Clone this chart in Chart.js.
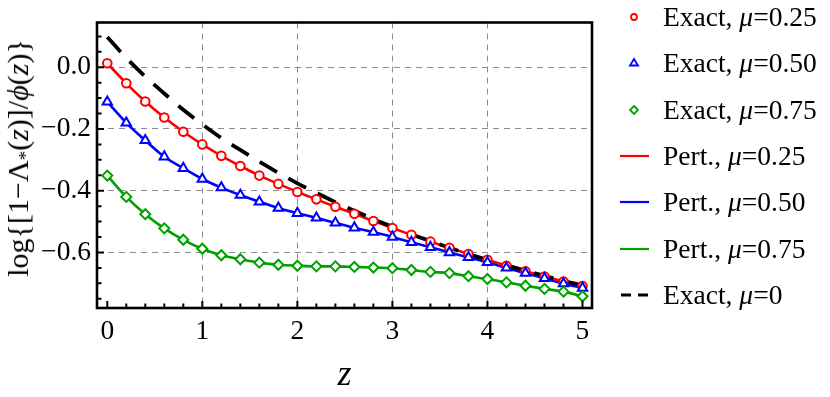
<!DOCTYPE html>
<html>
<head>
<meta charset="utf-8">
<script src="https://cdn.jsdelivr.net/npm/chart.js@4.4.1/dist/chart.umd.min.js"></script>
<style>
  html, body { margin: 0; padding: 0; background: #fff; }
  #wrap { position: relative; width: 830px; height: 397px; overflow: hidden; }
  #c { position: absolute; left: 0; top: 0; }
  #ylab {
    position: absolute; left: 19px; top: 158px;
    transform: translate(-50%, -50%) rotate(-90deg);
    white-space: nowrap; font-family: 'Liberation Serif', 'Times New Roman', serif;
    font-size: 30px; color: #000; line-height: 1;
  }
  #ylab sub { font-size: 19px; vertical-align: -4px; }
  .lg-row { position: absolute; height: 30px; line-height: 30px; white-space: nowrap;
    font-family: 'Liberation Serif', 'Times New Roman', serif; font-size: 27.5px; color: #000; }
  .lg-sym { position: absolute; }
</style>
</head>
<body>
<div id="wrap">
  <canvas id="c" width="830" height="397"></canvas>
  <div id="ylab">log{[1−Λ<sub>*</sub>(<i>z</i>)]/<i>ϕ</i>(<i>z</i>)}</div>
  <div id="legend"></div>
</div>
<script>
// ---- data ----
const zValues = [0, 0.2, 0.4, 0.6, 0.8, 1.0, 1.2, 1.4, 1.6, 1.8, 2.0, 2.2, 2.4, 2.6, 2.8, 3.0, 3.2, 3.4, 3.6, 3.8, 4.0, 4.2, 4.4, 4.6, 4.8, 5.0];

const exact025 = [0.013, -0.052, -0.111, -0.163, -0.209, -0.250, -0.287, -0.320, -0.351, -0.378, -0.404, -0.428, -0.452, -0.475, -0.498, -0.521, -0.543, -0.565, -0.585, -0.605, -0.624, -0.643, -0.661, -0.678, -0.694, -0.709];
const exact050 = [-0.112, -0.180, -0.237, -0.290, -0.327, -0.362, -0.390, -0.414, -0.436, -0.456, -0.473, -0.488, -0.504, -0.520, -0.534, -0.550, -0.567, -0.583, -0.600, -0.616, -0.632, -0.650, -0.667, -0.684, -0.701, -0.715];
const exact075 = [-0.351, -0.420, -0.476, -0.522, -0.559, -0.588, -0.609, -0.622, -0.633, -0.640, -0.643, -0.645, -0.645, -0.647, -0.649, -0.651, -0.657, -0.663, -0.667, -0.677, -0.686, -0.697, -0.708, -0.718, -0.727, -0.742];

// perturbative curves pass through the exact points in the picture
const pert025 = [0.013, -0.052, -0.111, -0.163, -0.209, -0.250, -0.287, -0.320, -0.351, -0.378, -0.404, -0.428, -0.452, -0.475, -0.498, -0.521, -0.543, -0.565, -0.585, -0.605, -0.624, -0.643, -0.661, -0.678, -0.694, -0.709];
const pert050 = [-0.112, -0.180, -0.237, -0.290, -0.327, -0.362, -0.390, -0.414, -0.436, -0.456, -0.473, -0.488, -0.504, -0.520, -0.534, -0.550, -0.567, -0.583, -0.600, -0.616, -0.632, -0.650, -0.667, -0.684, -0.701, -0.715];
const pert075 = [-0.351, -0.420, -0.476, -0.522, -0.559, -0.588, -0.609, -0.622, -0.633, -0.640, -0.643, -0.645, -0.645, -0.647, -0.649, -0.651, -0.657, -0.663, -0.667, -0.677, -0.686, -0.697, -0.708, -0.718, -0.727, -0.742];

const exact0 = [0.098, 0.030, -0.030, -0.085, -0.138, -0.185, -0.229, -0.268, -0.306, -0.342, -0.376, -0.407, -0.437, -0.465, -0.492, -0.517, -0.541, -0.563, -0.585, -0.605, -0.624, -0.642, -0.659, -0.676, -0.692, -0.707];

const xTickValues = [0, 1, 2, 3, 4, 5];
const yTickValues = [0.0, -0.2, -0.4, -0.6];

const seriesLabels = ['Exact, μ=0.25', 'Exact, μ=0.50', 'Exact, μ=0.75',
                      'Pert., μ=0.25', 'Pert., μ=0.50', 'Pert., μ=0.75', 'Exact, μ=0'];

// ---- chart ----
const RED = '#ff0000', BLUE = '#0000ff', GREEN = '#00a000';
const pts = arr => zValues.map((z, i) => ({x: z, y: arr[i]}));
const FONT = "'Liberation Serif', 'Times New Roman', serif";

const markerDs = (label, arr, color, style, r, ord) => ({
  label, data: pts(arr), showLine: false, borderColor: color, backgroundColor: '#fff',
  pointStyle: style, pointRadius: r, pointBorderWidth: 2, pointHoverRadius: r, order: ord
});
const lineDs = (label, arr, color, ord, extra) => Object.assign({
  label, data: pts(arr), showLine: true, borderColor: color, backgroundColor: color,
  borderWidth: 2.6, pointRadius: 0, pointHoverRadius: 0, cubicInterpolationMode: 'monotone', order: ord
}, extra || {});

const datasets = [
  markerDs(seriesLabels[0], exact025, RED, 'circle', 4.3, 3),
  markerDs(seriesLabels[1], exact050, BLUE, 'triangle', 5.4, 2),
  markerDs(seriesLabels[2], exact075, GREEN, 'rectRot', 5.0, 1),
  lineDs(seriesLabels[3], pert025, RED, 5),
  lineDs(seriesLabels[4], pert050, BLUE, 6),
  lineDs(seriesLabels[5], pert075, GREEN, 7),
  lineDs(seriesLabels[6], exact0, '#000', 4, {borderWidth: 3.8, borderDash: [20, 13], borderCapStyle: 'butt'})
];

const frameTicks = {
  id: 'frameTicks',
  afterDatasetsDraw(chart) {
    const {ctx, chartArea: a, scales: {x, y}} = chart;
    ctx.save();
    ctx.strokeStyle = '#000';
    ctx.lineWidth = 2;
    ctx.beginPath();
    for (let k = 0; k <= 25; k++) {
      const v = k * 0.2;
      const px = x.getPixelForValue(v);
      const len = (k % 5 === 0) ? 7 : 4.5;
      ctx.moveTo(px, a.bottom); ctx.lineTo(px, a.bottom - len);
    }
    for (let k = -15; k <= 2; k++) {
      const v = k * 0.05;
      const py = y.getPixelForValue(v);
      const len = (k % 4 === 0) ? 7 : 4.5;
      ctx.moveTo(a.left, py); ctx.lineTo(a.left + len, py);
    }
    ctx.stroke();
    ctx.lineWidth = 2.6;
    ctx.strokeRect(a.left, a.top, a.right - a.left, a.bottom - a.top);
    ctx.restore();
  }
};

const chart = new Chart(document.getElementById('c'), {
  type: 'scatter',
  data: { datasets },
  options: {
    responsive: false,
    animation: false,
    events: [],
    layout: { padding: { left: 0, top: 2, right: 238, bottom: 0 } },
    plugins: { legend: { display: false }, tooltip: { enabled: false } },
    scales: {
      x: {
        type: 'linear', min: -0.108, max: 5.1,
        afterFit: s => { s.height = 89; },
        afterBuildTicks: s => { s.ticks = xTickValues.map(v => ({value: v})); },
        ticks: { font: { family: FONT, size: 27.5 }, color: '#000', padding: 7,
                 callback: v => String(v), maxRotation: 0, autoSkip: false },
        grid: { drawTicks: false, lineWidth: 1,
                color: c => (c.tick && (c.tick.value === 0 || c.tick.value === 5)) ? 'rgba(0,0,0,0)' : '#8c8c8c' },
        border: { display: false, dash: [6, 5] },
        title: { display: true, text: 'z', font: { family: FONT, size: 36, style: 'italic' },
                 color: '#000', padding: { top: 0, bottom: 0 } }
      },
      y: {
        type: 'linear', min: -0.78, max: 0.145,
        afterFit: s => { s.width = 97; },
        afterBuildTicks: s => { s.ticks = yTickValues.map(v => ({value: v})); },
        ticks: { font: { family: FONT, size: 27.5 }, color: '#000', padding: 6,
                 callback: v => (Math.abs(v) < 1e-9 ? '0.0' : (v < 0 ? '\u2212' : '') + Math.abs(v).toFixed(1)) },
        grid: { drawTicks: false, lineWidth: 1, color: '#8c8c8c' },
        border: { display: false, dash: [6, 5] }
      }
    }
  },
  plugins: [frameTicks]
});

// ---- legend (HTML, built from the datasets) ----
const legendEl = document.getElementById('legend');
const symSvg = (ds, idx) => {
  const c = ds.borderColor;
  if (idx <= 2) {
    let shape;
    if (ds.pointStyle === 'circle') shape = `<circle cx="14" cy="8" r="3" fill="#fff" stroke="${c}" stroke-width="1.8"/>`;
    else if (ds.pointStyle === 'triangle') shape = `<polygon points="14,4 18,10.5 10,10.5" fill="#fff" stroke="${c}" stroke-width="1.8"/>`;
    else shape = `<polygon points="14,4 18,8 14,12 10,8" fill="#fff" stroke="${c}" stroke-width="1.8"/>`;
    return `<svg width="30" height="16">${shape}</svg>`;
  }
  if (ds.borderDash) return `<svg width="30" height="16"><line x1="1" y1="8" x2="29" y2="8" stroke="${c}" stroke-width="3" stroke-dasharray="10,7"/></svg>`;
  return `<svg width="30" height="16"><line x1="0" y1="8" x2="29" y2="8" stroke="${c}" stroke-width="2.2"/></svg>`;
};
datasets.forEach((ds, i) => {
  const cy = 16.7 + 46.4 * i;
  const sym = document.createElement('div');
  sym.className = 'lg-sym';
  sym.style.left = '620px'; sym.style.top = (cy - 8) + 'px';
  sym.innerHTML = symSvg(ds, i);
  legendEl.appendChild(sym);
  const row = document.createElement('div');
  row.className = 'lg-row';
  row.style.left = '663px'; row.style.top = (cy - 15) + 'px';
  row.innerHTML = ds.label.replace('μ', '<i>μ</i>');
  legendEl.appendChild(row);
});
</script>
</body>
</html>
